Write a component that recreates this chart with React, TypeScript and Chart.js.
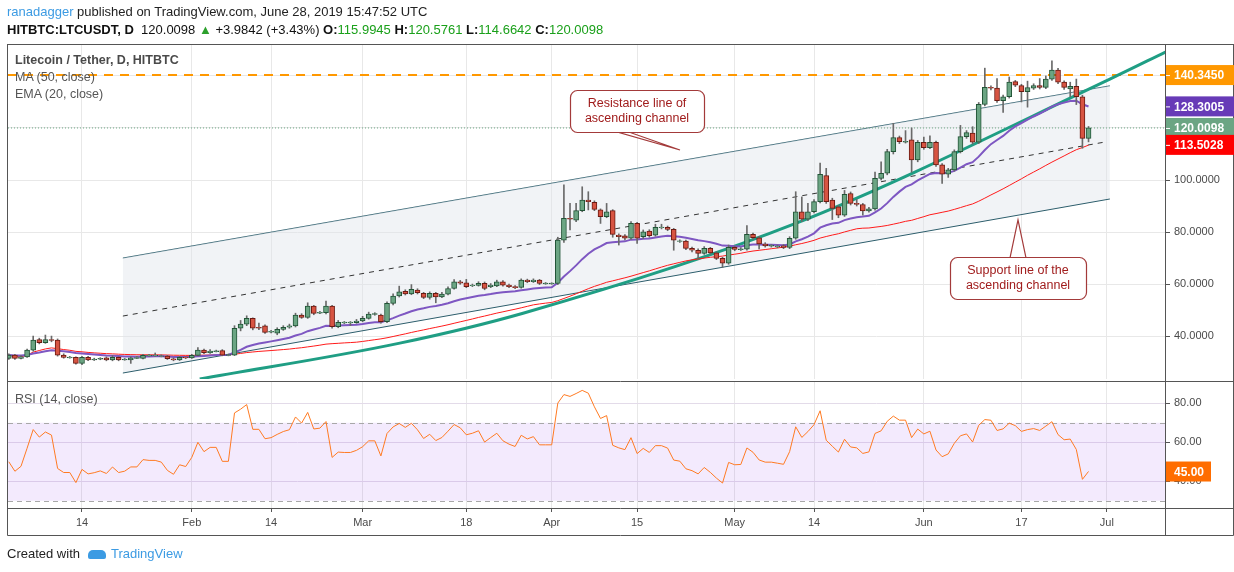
import React, { useEffect, useRef } from 'react';
import { Chart, registerables } from 'chart.js';
Chart.register(...registerables);

// ---------- data ----------
const START_DAY = 1; // day index 0 = 1 Jan 2019
const opens = [31.4,32.7,31.4,32.0,34.6,38.7,37.5,38.7,38.5,32.7,31.8,31.8,29.5,31.8,31.0,31.3,31.6,30.8,31.8,31.0,30.8,31.6,31.4,32.5,32.5,32.3,32.3,31.3,30.8,31.8,31.6,32.6,34.6,33.6,34.2,34.4,32.7,32.7,43.0,44.6,46.8,43.2,43.9,41.7,41.1,42.6,43.4,43.9,48.1,47.2,51.5,49.0,49.0,51.5,43.6,45.2,45.2,45.2,45.8,46.8,48.5,48.1,45.5,52.6,55.4,57.2,56.2,57.7,56.4,54.9,56.4,55.1,56.1,58.3,60.9,60.5,59.5,59.5,60.3,59.0,59.3,60.9,59.6,59.0,58.7,61.5,60.9,61.5,60.2,60.2,60.2,76.9,85.3,84.6,88.2,92.3,91.4,88.5,85.9,88.2,78.8,78.5,77.6,83.3,78.2,80.4,78.8,81.8,81.8,81.0,76.5,76.5,73.7,73.0,71.8,73.7,72.0,69.9,68.0,74.1,73.4,73.4,79.1,77.8,75.4,74.7,74.4,74.7,74.1,77.6,87.8,84.9,87.8,91.7,101.7,92.3,89.7,86.5,94.8,91.0,90.6,88.1,88.9,100.6,102.6,110.9,116.3,114.7,115.4,107.7,114.5,112.4,114.5,105.8,102.2,103.9,110.9,116.7,118.0,114.5,129.1,135.6,135.3,130.5,132.0,137.8,136.3,134.0,135.3,136.3,135.6,138.8,142.3,137.6,135.0,136.0,132.0,115.99];
const closes = [32.7,31.4,32.0,34.6,38.5,37.5,38.7,38.3,32.7,31.8,31.8,29.5,31.8,30.8,31.0,31.3,30.8,31.8,30.8,31.0,31.6,31.6,32.6,32.5,32.5,32.3,31.3,30.8,31.8,31.6,32.6,34.6,33.6,34.2,34.2,32.7,32.7,43.0,44.6,46.8,43.0,43.0,41.4,41.7,42.6,43.4,43.9,48.1,47.2,51.5,48.7,49.0,51.5,43.6,45.3,45.2,45.2,45.8,46.8,48.5,48.5,45.5,52.6,55.4,57.0,56.2,58.0,56.7,54.9,56.4,55.1,56.1,58.3,60.9,60.3,59.0,59.5,60.3,58.3,59.6,60.9,59.6,59.0,58.6,61.5,60.9,61.5,60.2,60.2,60.2,76.9,85.3,84.9,88.2,92.3,91.7,88.7,85.9,87.8,79.1,78.2,77.6,83.3,77.6,80.1,78.6,81.8,81.8,81.0,76.9,76.5,73.7,73.0,71.8,73.7,72.0,69.9,68.0,74.1,73.3,73.4,79.1,77.8,75.4,74.7,74.7,74.4,74.1,77.6,87.8,84.9,87.8,91.7,102.2,91.7,89.1,86.5,94.5,91.0,90.6,88.1,88.9,100.6,102.6,110.9,116.3,114.7,114.7,107.7,114.5,112.4,114.5,105.8,102.2,103.9,110.9,116.7,118.2,114.5,129.1,135.6,135.3,130.5,132.0,137.6,136.5,134.0,135.5,136.3,135.6,138.8,142.3,137.6,135.6,136.0,132.0,116.0,120.01];
const highs = [33.2,33.0,32.5,35.0,40.0,39.2,40.4,40.0,38.9,33.2,32.2,32.0,32.2,32.2,31.5,31.7,32.0,32.5,32.0,31.4,32.0,32.2,33.0,33.0,33.5,32.8,32.6,31.6,32.2,32.1,33.0,35.6,35.0,34.8,34.6,34.8,33.1,44.0,46.0,47.8,47.0,45.0,44.3,42.2,43.2,44.0,44.6,48.8,48.6,52.8,51.8,49.5,53.5,51.8,46.0,45.6,45.6,46.4,47.6,49.2,49.0,48.5,53.2,56.2,59.2,57.8,59.8,58.2,56.8,57.0,56.8,56.8,58.9,61.7,61.4,61.8,60.0,60.9,60.8,60.2,61.5,61.3,60.0,59.4,62.0,61.9,62.0,61.8,60.6,60.5,78.0,98.1,91.0,91.0,97.4,95.5,92.0,88.9,91.0,88.6,79.3,79.0,84.0,83.7,80.8,80.9,83.0,83.0,82.3,81.4,77.0,76.9,74.2,73.5,74.4,74.1,72.4,70.3,75.0,74.6,74.0,82.5,79.6,78.3,75.9,75.2,75.0,75.2,78.2,95.5,93.5,91.0,92.5,106.5,104.5,93.0,90.2,96.0,95.4,92.5,91.0,89.5,103.0,107.0,111.8,121.8,116.9,119.0,120.0,115.2,116.5,117.0,115.0,106.3,104.5,111.6,121.0,119.0,120.5,129.8,143.0,136.2,139.0,132.6,139.6,138.3,136.8,138.0,137.0,139.0,140.0,145.8,142.9,138.1,137.6,138.8,132.6,120.58];
const lows = [31.0,31.0,31.2,31.8,34.2,37.0,37.2,37.8,32.3,31.5,31.5,29.2,29.0,30.5,30.6,30.9,30.5,30.5,30.5,30.7,29.5,31.3,31.2,32.2,32.2,32.0,31.0,30.5,30.6,31.3,31.4,32.4,33.2,33.3,33.9,32.4,32.4,32.5,42.0,44.0,42.4,42.5,41.0,41.2,40.5,42.2,43.0,43.5,46.8,46.8,48.2,48.6,48.5,43.0,43.2,44.8,44.0,44.9,45.5,46.5,48.0,45.0,45.2,52.0,55.0,55.8,55.9,56.2,54.4,54.2,52.8,54.8,55.8,58.0,59.9,58.6,59.0,59.2,57.8,58.6,59.0,59.2,58.6,58.2,58.4,60.5,60.6,59.8,59.9,59.9,59.8,76.0,80.8,84.0,87.8,88.5,88.2,83.3,85.5,78.0,75.0,77.0,77.2,75.6,77.5,78.0,78.4,81.2,80.5,73.0,76.0,73.2,72.4,70.0,71.4,71.5,69.4,66.4,67.6,72.8,72.9,73.0,77.2,73.5,74.2,74.2,73.9,73.6,73.6,77.2,84.0,84.4,87.3,91.2,91.0,84.8,85.5,86.0,90.4,90.0,86.5,87.6,88.4,100.0,102.0,110.0,114.0,114.2,103.0,107.0,111.8,112.0,105.2,98.7,101.0,103.4,110.4,116.0,113.8,114.0,128.5,134.6,129.8,126.0,131.5,135.9,130.0,128.0,134.8,135.0,135.1,138.3,137.0,134.8,132.0,129.0,112.2,114.66];

const tickDays = [13, 31, 44, 59, 76, 90, 104, 120, 133, 151, 167, 181];
const tickLabels = ['14', 'Feb', '14', 'Mar', '18', 'Apr', '15', 'May', '14', 'Jun', '17', 'Jul'];
const priceTicks = [40, 60, 80, 100, 120, 140];
const rsiTicks = [40, 60, 80];
const upperChannel = [{ x: 19.7, y: 70 }, { x: 181.5, y: 136.2 }];
const lowerChannel = [{ x: 19.7, y: 25.8 }, { x: 181.5, y: 92.7 }];
const midChannel = [{ x: 19.7, y: 47.7 }, { x: 180.7, y: 114.6 }];
const supportCurve = [{ x: 32.3, y: 23.5 }, { x: 65.1, y: 37.3 }, { x: 85.3, y: 48.8 }, { x: 130.2, y: 83.5 }, { x: 181.5, y: 138.8 }, { x: 190.7, y: 149.3 }];
const resistanceLevel = 140.345;
const lastPrice = 120.0098;
const emaLabel = 128.3005;
const maLabel = 113.5028;
const rsiLabel = 45.0;

const X_MIN = 0.87, X_MAX = 190.7;
const Y_MIN = 23.5, Y_MAX = 151.9;
const R_MIN = 26.3, R_MAX = 91.4;
const FONT = '"Liberation Sans", Arial, sans-serif';

// ---------- indicators ----------
function ema(values: number[], n: number) {
  const k = 2 / (n + 1); let e = values[0];
  return values.map((v) => (e = v * k + e * (1 - k)));
}
function sma(values: number[], n: number) {
  return values.map((_, i) => {
    const s = values.slice(Math.max(0, i - n + 1), i + 1);
    return s.reduce((a, b) => a + b, 0) / s.length;
  });
}
function rsi(values: number[], n: number) {
  let ag = 0.5, al = 0.5; const out: number[] = [];
  values.forEach((v, i) => {
    const d = i === 0 ? 0 : v - values[i - 1];
    const g = Math.max(d, 0), l = Math.max(-d, 0);
    ag = (ag * (n - 1) + g) / n; al = (al * (n - 1) + l) / n;
    out.push(100 - 100 / (1 + ag / al));
  });
  return out;
}

const days = closes.map((_, i) => START_DAY + i);
const pts = (arr: number[]) => arr.map((v, i) => ({ x: days[i], y: v }));
const noPad = (s: any) => { s.paddingTop = 0; s.paddingBottom = 0; s.paddingLeft = 0; s.paddingRight = 0; };

function labelBox(ctx: CanvasRenderingContext2D, y: number, text: string, bg: string, left: number) {
  ctx.fillStyle = bg;
  ctx.fillRect(left, y - 10, 68, 20);
  ctx.strokeStyle = '#fff'; ctx.lineWidth = 1;
  ctx.beginPath(); ctx.moveTo(left, y + 0.5); ctx.lineTo(left + 4, y + 0.5); ctx.stroke();
  ctx.fillStyle = '#fff'; ctx.font = `bold 12px ${FONT}`; ctx.textBaseline = 'middle'; ctx.textAlign = 'left';
  ctx.fillText(text, left + 8, y + 1);
}

function callout(ctx: CanvasRenderingContext2D, x: number, y: number, w: number, h: number, lines: string[], tri: number[]) {
  ctx.save();
  ctx.strokeStyle = '#a33a3a'; ctx.fillStyle = '#fff'; ctx.lineWidth = 1.2;
  ctx.beginPath(); ctx.moveTo(tri[0], tri[1]); ctx.lineTo(tri[2], tri[3]); ctx.lineTo(tri[4], tri[5]); ctx.closePath();
  ctx.fill(); ctx.stroke();
  ctx.beginPath(); (ctx as any).roundRect(x + 0.5, y + 0.5, w, h, 7); ctx.fill(); ctx.stroke();
  ctx.fillStyle = '#a01c1c'; ctx.font = `12.5px ${FONT}`; ctx.textAlign = 'center'; ctx.textBaseline = 'middle';
  lines.forEach((t, i) => ctx.fillText(t, x + w / 2, y + 14 + i * 15));
  ctx.restore();
}

export default function App() {
  const mainRef = useRef<HTMLCanvasElement>(null);
  const rsiRef = useRef<HTMLCanvasElement>(null);

  useEffect(() => {
    const emaVals = ema(closes, 20);
    const maVals = sma(closes, 50);
    const rsiVals = rsi(closes, 14);
    const up = '#6ba583', dn = '#d75442';
    const bodies = days.map((d, i) => {
      const o = opens[i], c = closes[i];
      const y = Math.abs(o - c) < 0.25 ? [o - 0.15, o + 0.15] : [o, c];
      return { x: d, y };
    });
    const wicks = days.map((d, i) => ({ x: d, y: [lows[i], highs[i]] }));
    const bodyColors = days.map((_, i) => (closes[i] >= opens[i] ? up : dn));
    const bodyBorders = days.map((_, i) => (closes[i] >= opens[i] ? '#225437' : '#6b1a12'));

    const framePlugin = {
      id: 'frame',
      afterDraw(chart: any) {
        const ctx = chart.ctx as CanvasRenderingContext2D;
        const y = chart.scales.y;
        ctx.save();
        ctx.strokeStyle = '#555'; ctx.lineWidth = 1;
        ctx.strokeRect(7.5, 44.5, 1226, 340);
        ctx.beginPath(); ctx.moveTo(1165.5, 44); ctx.lineTo(1165.5, 381); ctx.stroke();
        labelBox(ctx, y.getPixelForValue(resistanceLevel), '140.3450', '#ff9800', 1166);
        labelBox(ctx, y.getPixelForValue(emaLabel), '128.3005', '#673ab7', 1166);
        labelBox(ctx, y.getPixelForValue(lastPrice), '120.0098', '#6ba583', 1166);
        labelBox(ctx, y.getPixelForValue(maLabel), '113.5028', '#ff0000', 1166);
        callout(ctx, 570, 90, 134, 42, ['Resistance line of', 'ascending channel'], [614, 131, 626, 131, 680, 150]);
        callout(ctx, 950, 257, 136, 42, ['Support line of the', 'ascending channel'], [1010, 258, 1026, 258, 1018, 220]);
        ctx.restore();
      },
    };

    const main = new Chart(mainRef.current!, {
      type: 'bar',
      data: {
        datasets: [
          { type: 'bar', data: bodies as any, backgroundColor: bodyColors, borderColor: bodyBorders, borderWidth: 1, borderSkipped: false, barThickness: 5, grouped: false, order: 0 } as any,
          { type: 'bar', data: wicks as any, backgroundColor: '#6a6a6a', barThickness: 1, grouped: false, order: 1 } as any,
          { type: 'line', data: pts(emaVals), borderColor: '#7e57c2', borderWidth: 2, pointRadius: 0, order: 2 },
          { type: 'line', data: pts(maVals), borderColor: '#ff1a1a', borderWidth: 1, pointRadius: 0, order: 3 },
          { type: 'line', data: supportCurve, borderColor: '#1f9e84', borderWidth: 3, pointRadius: 0, cubicInterpolationMode: 'monotone', order: 4 },
          { type: 'line', data: midChannel, borderColor: '#333', borderWidth: 1, borderDash: [5, 5], pointRadius: 0, order: 5 },
          { type: 'line', data: [{ x: X_MIN, y: resistanceLevel }, { x: X_MAX, y: resistanceLevel }], borderColor: '#ff9800', borderWidth: 2, borderDash: [9, 7], pointRadius: 0, order: 6 },
          { type: 'line', data: [{ x: X_MIN, y: lastPrice }, { x: X_MAX, y: lastPrice }], borderColor: '#6ba583', borderWidth: 1, borderDash: [1, 2], pointRadius: 0, order: 7 },
          { type: 'line', data: upperChannel, borderColor: '#2c5d6b', borderWidth: 1, pointRadius: 0, order: 9 },
          { type: 'line', data: lowerChannel, borderColor: '#2c5d6b', borderWidth: 1, pointRadius: 0, fill: '-1', backgroundColor: 'rgba(225,228,234,0.45)', order: 8 },
        ],
      },
      options: {
        animation: false, responsive: false, maintainAspectRatio: false,
        layout: { padding: { left: 8, top: 45, right: 0, bottom: 2 } },
        plugins: { legend: { display: false }, tooltip: { enabled: false } },
        scales: {
          x: {
            type: 'linear', min: X_MIN, max: X_MAX, offset: false,
            afterBuildTicks: (s: any) => { s.ticks = tickDays.map((v) => ({ value: v })); },
            afterFit: (s: any) => { s.height = 0; noPad(s); },
            ticks: { display: false }, grid: { color: '#e8e8e8', drawTicks: false, offset: false }, border: { display: false },
          },
          y: {
            position: 'right', min: Y_MIN, max: Y_MAX,
            afterBuildTicks: (s: any) => { s.ticks = priceTicks.map((v) => ({ value: v })); },
            afterFit: (s: any) => { s.width = 68; noPad(s); },
            ticks: { callback: (v: any) => (v <= 100 ? Number(v).toFixed(4) : ''), color: '#4a4a4a', font: { size: 11, family: FONT }, padding: 4 },
            grid: { color: '#e8e8e8', tickLength: 4, tickColor: '#555' }, border: { display: false },
          },
        },
      } as any,
      plugins: [framePlugin],
    });

    const rsiPlugin = {
      id: 'rsiDeco',
      beforeDatasetsDraw(chart: any) {
        const ctx = chart.ctx as CanvasRenderingContext2D;
        const y = chart.scales.y; const a = chart.chartArea;
        const y70 = y.getPixelForValue(70), y30 = y.getPixelForValue(30);
        ctx.save();
        ctx.fillStyle = 'rgba(155, 80, 240, 0.12)';
        ctx.fillRect(a.left, y70, a.right - a.left, y30 - y70);
        ctx.strokeStyle = '#a8a8a8'; ctx.setLineDash([5, 4]); ctx.lineWidth = 1;
        [y70, y30].forEach((py) => { ctx.beginPath(); ctx.moveTo(a.left, Math.round(py) + 0.5); ctx.lineTo(a.right, Math.round(py) + 0.5); ctx.stroke(); });
        ctx.restore();
      },
      afterDraw(chart: any) {
        const ctx = chart.ctx as CanvasRenderingContext2D;
        const y = chart.scales.y;
        ctx.save();
        ctx.strokeStyle = '#555'; ctx.lineWidth = 1;
        ctx.beginPath();
        ctx.moveTo(7.5, 0); ctx.lineTo(7.5, 154.5); ctx.lineTo(1233.5, 154.5); ctx.lineTo(1233.5, 0);
        ctx.moveTo(1165.5, 0); ctx.lineTo(1165.5, 154.5);
        ctx.moveTo(7.5, 127.5); ctx.lineTo(1233.5, 127.5);
        ctx.moveTo(7.5, 0.5); ctx.lineTo(1233.5, 0.5);
        ctx.stroke();
        ctx.fillStyle = '#ff6d00';
        const py = y.getPixelForValue(rsiLabel);
        ctx.fillRect(1166, py - 10, 45, 20);
        ctx.fillStyle = '#fff'; ctx.font = `bold 12px ${FONT}`; ctx.textBaseline = 'middle'; ctx.textAlign = 'left';
        ctx.fillText('45.00', 1174, py + 1);
        ctx.restore();
      },
    };

    const rsiChart = new Chart(rsiRef.current!, {
      type: 'line',
      data: { datasets: [{ data: pts(rsiVals), borderColor: '#ff7a22', borderWidth: 1, pointRadius: 0 }] },
      options: {
        animation: false, responsive: false, maintainAspectRatio: false,
        layout: { padding: { left: 8, top: 0, right: 0, bottom: 37 } },
        plugins: { legend: { display: false }, tooltip: { enabled: false } },
        scales: {
          x: {
            type: 'linear', min: X_MIN, max: X_MAX, offset: false,
            afterBuildTicks: (s: any) => { s.ticks = tickDays.map((v) => ({ value: v })); },
            afterFit: (s: any) => { s.height = 27; noPad(s); },
            ticks: { callback: (v: any) => tickLabels[tickDays.indexOf(Number(v))] ?? '', color: '#4a4a4a', font: { size: 11, family: FONT }, padding: 4, maxRotation: 0, autoSkip: false },
            grid: { color: '#e8e8e8', tickLength: 4, tickColor: '#555' }, border: { display: false },
          },
          y: {
            position: 'right', min: R_MIN, max: R_MAX,
            afterBuildTicks: (s: any) => { s.ticks = rsiTicks.map((v) => ({ value: v })); },
            afterFit: (s: any) => { s.width = 68; noPad(s); },
            ticks: { callback: (v: any) => Number(v).toFixed(2), color: '#4a4a4a', font: { size: 11, family: FONT }, padding: 4 },
            grid: { color: '#e3dbe9', tickLength: 4, tickColor: '#555' }, border: { display: false },
          },
        },
      } as any,
      plugins: [rsiPlugin],
    });

    return () => { main.destroy(); rsiChart.destroy(); };
  }, []);

  const txt: React.CSSProperties = { position: 'absolute', whiteSpace: 'nowrap', fontFamily: FONT };
  return (
    <div style={{ position: 'absolute', left: 0, top: 0, width: 1234, height: 572, background: '#fff', overflow: 'hidden' }}>
      <canvas ref={mainRef} width={1234} height={381} style={{ position: 'absolute', left: 0, top: 0 }} />
      <canvas ref={rsiRef} width={1234} height={191} style={{ position: 'absolute', left: 0, top: 381 }} />
      <div style={{ ...txt, left: 7, top: 4, fontSize: 13, color: '#222', fontFamily: '"Liberation Sans Narrow", ' + FONT }}>
        <span style={{ color: '#3c9be3' }}>ranadagger</span> published on TradingView.com, June 28, 2019 15:47:52 UTC
      </div>
      <div style={{ ...txt, left: 7, top: 22, fontSize: 13, color: '#111', fontFamily: '"Liberation Sans Narrow", ' + FONT }}>
        <b>HITBTC:LTCUSDT, D</b>&nbsp; 120.0098 <span style={{ color: '#2ca02c' }}>▲</span> +3.9842 (+3.43%) <b>O:</b><span style={{ color: '#1aa01a' }}>115.9945</span> <b>H:</b><span style={{ color: '#1aa01a' }}>120.5761</span> <b>L:</b><span style={{ color: '#1aa01a' }}>114.6642</span> <b>C:</b><span style={{ color: '#1aa01a' }}>120.0098</span>
      </div>
      <div style={{ ...txt, left: 15, top: 53, fontSize: 12.5, color: '#4a4a4a', fontWeight: 'bold' }}>Litecoin / Tether, D, HITBTC</div>
      <div style={{ ...txt, left: 15, top: 70, fontSize: 12.5, color: '#555' }}>MA (50, close)</div>
      <div style={{ ...txt, left: 15, top: 87, fontSize: 12.5, color: '#555' }}>EMA (20, close)</div>
      <div style={{ ...txt, left: 15, top: 392, fontSize: 12.5, color: '#555' }}>RSI (14, close)</div>
      <div style={{ ...txt, left: 7, top: 546, fontSize: 13, color: '#222' }}>
        Created with <span style={{ display: 'inline-block', width: 18, height: 9, marginLeft: 4, marginRight: 2, borderRadius: '5px 5px 2px 2px', background: '#3c9be3', verticalAlign: 'middle' }} /> <span style={{ color: '#3c9be3' }}>TradingView</span>
      </div>
    </div>
  );
}
